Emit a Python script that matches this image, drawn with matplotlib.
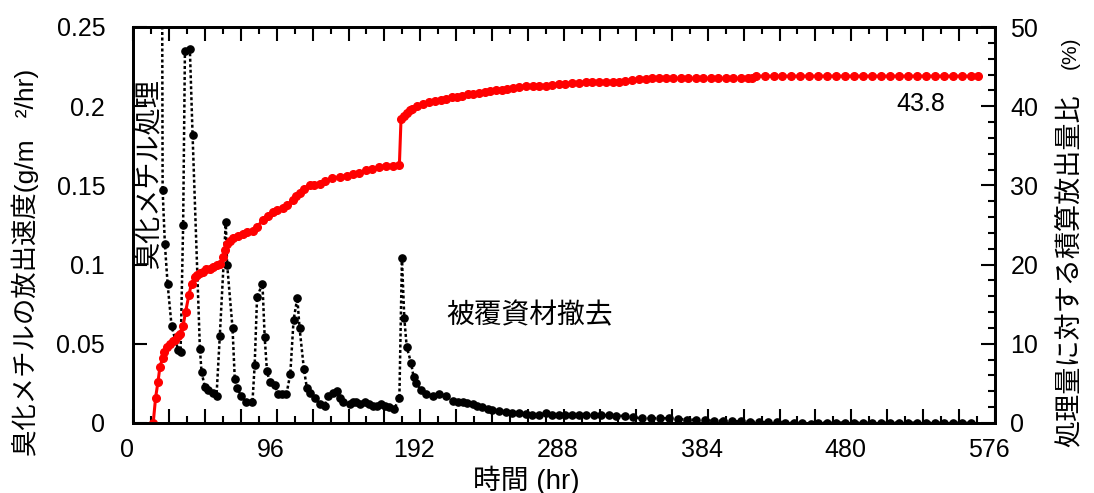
import numpy as np
import matplotlib
matplotlib.use("Agg")
import matplotlib.pyplot as plt
from matplotlib.transforms import ScaledTranslation

# 放出速度 (g/m2/hr) - 黒点線
t_rate = [19.0, 19.8, 21.3, 23.1, 25.8, 30.2, 31.8, 33.5, 34.7, 38.0,
          39.8, 44.7, 45.8, 48.0, 50.2, 53.5, 55.8, 58.0, 62.0, 62.9,
          66.5, 68.0, 69.5, 72.5, 75.8, 79.8, 81.3, 82.9, 86.5, 88.0,
          89.5, 91.3, 94.7, 96.9, 99.3, 102.5, 105.1, 107.3, 109.8, 111.3,
          114.2, 116.2, 118.5, 121.3, 124.7, 128.0, 130.2, 133.5, 136.2, 138.0,
          140.2, 144.7, 147.0, 149.1, 152.0, 154.7, 157.5, 160.2, 163.0, 165.8,
          168.5, 171.3, 174.7, 178.0, 179.7, 181.3, 182.9, 185.8, 187.5, 189.1,
          192.5, 195.8, 200.2, 204.7, 209.1, 213.5, 217.0, 220.2, 223.5, 226.9,
          230.0, 233.5, 237.0, 240.2, 244.5, 249.1, 253.5, 258.0, 262.5, 266.9,
          271.0, 275.8, 280.0, 284.5, 289.0, 293.5, 298.0, 303.0, 308.0, 313.0,
          318.0, 323.0, 329.0, 334.0, 340.0, 346.0, 352.0, 358.0, 364.0, 370.0,
          376.0, 382.0, 388.0, 394.0, 400.0, 406.0, 412.0, 418.0, 424.0, 430.0,
          436.0, 442.0, 447.0, 453.0, 458.0, 464.0, 470.0, 476.0, 482.0, 488.0,
          494.0, 500.0, 506.0, 512.0, 518.0, 524.0, 530.0, 536.0, 542.0, 548.0,
          554.0, 560.0]
rate = [0.45, 0.147, 0.113, 0.088, 0.061, 0.046, 0.045, 0.125, 0.235, 0.236,
        0.182, 0.047, 0.032, 0.023, 0.021, 0.019, 0.017, 0.055, 0.127, 0.100,
        0.060, 0.028, 0.022, 0.017, 0.013, 0.013, 0.0365, 0.0795, 0.088, 0.054,
        0.033, 0.026, 0.024, 0.018, 0.018, 0.018, 0.031, 0.065, 0.079, 0.060,
        0.034, 0.022, 0.019, 0.016, 0.012, 0.011, 0.017, 0.019, 0.020, 0.016,
        0.013, 0.012, 0.013, 0.013, 0.012, 0.013, 0.012, 0.011, 0.011, 0.012,
        0.011, 0.010, 0.009, 0.016, 0.104, 0.066, 0.048, 0.038, 0.029, 0.025,
        0.021, 0.018, 0.017, 0.018, 0.017, 0.014, 0.0135, 0.013, 0.0125, 0.012,
        0.011, 0.010, 0.009, 0.008, 0.0075, 0.007, 0.0065, 0.006, 0.0055, 0.005,
        0.005, 0.0062, 0.0052, 0.005, 0.005, 0.0048, 0.005, 0.005, 0.0048, 0.005,
        0.0048, 0.0047, 0.0044, 0.0035, 0.003, 0.003, 0.003, 0.003, 0.0025, 0.0022,
        0.002, 0.0016, 0.0015, 0.0014, 0.0012, 0.001, 0.0008, 0.0006, 0.0005, 0.0004,
        0.0003, 0.0002, -0.0003, -0.0005, 0.0002, 0.0003, 0.0002, 0.0003, 0.0002, 0.0002,
        0.0003, 0.0002, 0.0002, 0.0003, 0.0002, 0.0002, 0.0003, 0.0002, 0.0002, 0.0002,
        0.0001, 0.0001]

# 積算放出量比 (%) - 赤
t_cum = [13.5, 15.1, 16.7, 18.0, 19.8, 20.9, 22.5, 24.7, 26.5, 28.0,
         30.0, 31.3, 33.5, 35.1, 37.3, 39.1, 41.3, 43.0, 44.7, 47.0,
         49.1, 51.5, 53.5, 56.0, 58.0, 60.2, 61.3, 62.5, 64.5, 66.9,
         70.0, 73.3, 76.5, 80.0, 83.0, 86.7, 90.0, 93.3, 96.5, 100.0,
         103.0, 106.7, 109.0, 111.3, 114.5, 118.0, 121.0, 124.7, 128.5, 133.3,
         138.0, 142.7, 147.0, 151.3, 155.5, 160.0, 164.5, 169.3, 174.0, 178.0,
         179.1, 181.0, 183.0, 184.8, 186.7, 190.0, 194.0, 198.0, 202.0, 205.5,
         209.0, 213.0, 216.5, 220.0, 224.0, 227.5, 231.3, 235.0, 238.5, 242.5,
         246.5, 250.0, 254.0, 258.0, 262.5, 267.0, 271.0, 275.8, 280.0, 284.5,
         289.0, 293.5, 298.0, 302.5, 307.0, 311.5, 316.0, 320.5, 324.7, 329.0,
         333.5, 338.0, 342.5, 347.0, 351.5, 356.0, 361.0, 366.0, 371.0, 376.0,
         381.0, 386.0, 391.0, 396.0, 401.0, 406.0, 411.0, 413.5, 416.0, 422.0,
         428.0, 434.0, 440.0, 446.0, 452.0, 458.0, 464.0, 470.0, 476.0, 482.0,
         488.0, 494.0, 500.0, 506.0, 512.0, 518.0, 524.0, 530.0, 536.0, 542.0,
         548.0, 554.0, 560.0, 564.7]
cum = [0.0, 3.2, 5.2, 7.1, 8.2, 9.0, 9.6, 10.0, 10.3, 10.5,
       11.0, 11.3, 12.3, 14.0, 16.1, 17.6, 18.4, 18.7, 18.9, 19.1,
       19.4, 19.5, 19.7, 19.9, 20.1, 21.0, 21.8, 22.6, 23.0, 23.3,
       23.6, 23.9, 24.1, 24.3, 24.8, 25.6, 26.1, 26.6, 26.9, 27.1,
       27.5, 28.1, 28.6, 29.1, 29.6, 30.0, 30.1, 30.2, 30.6, 30.9,
       31.1, 31.2, 31.4, 31.6, 31.9, 32.1, 32.3, 32.4, 32.5, 32.6,
       38.4, 38.8, 39.2, 39.5, 39.7, 40.0, 40.3, 40.5, 40.7, 40.8,
       40.9, 41.1, 41.2, 41.3, 41.5, 41.6, 41.7, 41.8, 41.9, 42.0,
       42.1, 42.2, 42.3, 42.4, 42.5, 42.5, 42.6, 42.6, 42.7, 42.8,
       42.8, 42.9, 42.9, 43.0, 43.0, 43.0, 43.1, 43.1, 43.1, 43.2,
       43.3, 43.4, 43.4, 43.5, 43.5, 43.5, 43.5, 43.5, 43.5, 43.5,
       43.5, 43.5, 43.5, 43.5, 43.5, 43.5, 43.5, 43.5, 43.8, 43.8,
       43.8, 43.8, 43.8, 43.8, 43.8, 43.8, 43.8, 43.8, 43.8, 43.8,
       43.8, 43.8, 43.8, 43.8, 43.8, 43.8, 43.8, 43.8, 43.8, 43.8,
       43.8, 43.8, 43.8, 43.8]

x_ticks = [0, 24, 48, 72, 96, 120, 144, 168, 192, 216, 240, 264, 288,
           312, 336, 360, 384, 408, 432, 456, 480, 504, 528, 552, 576]
x_labels = ['0', '', '', '', '96', '', '', '', '192', '', '', '', '288',
            '', '', '', '384', '', '', '', '480', '', '', '', '576']
y_left_ticks = [0, 0.05, 0.1, 0.15, 0.2, 0.25]
y_left_labels = ['0', '0.05', '0.1', '0.15', '0.2', '0.25']
y_right_ticks = [0, 10, 20, 30, 40, 50]

plt.rcParams['font.family'] = ['Liberation Sans', 'Noto Sans CJK JP', 'DejaVu Sans']

W, H = 1094, 493
fig = plt.figure(figsize=(W / 100, H / 100), dpi=100)
ax = fig.add_axes([133 / W, 70 / H, (995 - 133) / W, (423 - 27) / H])
ax2 = ax.twinx()

ax.plot(t_rate, rate, color='black', ls=(0, (1.2, 1.0)), lw=1.8,
        marker='o', ms=5.2)
ax2.plot(t_cum, cum, color='red', lw=2.2, marker='o', ms=5.5)

ax.set_xlim(0, 576)
ax.set_ylim(0, 0.25)
ax2.set_ylim(0, 50)

ax.set_xticks(x_ticks, x_labels)
ax.set_xticks(np.arange(0, 577, 12), minor=True)
ax.set_yticks(y_left_ticks, y_left_labels)
ax2.set_yticks(y_right_ticks)
ax2.set_yticks(np.arange(0, 51, 2), minor=True)

ax.tick_params(axis='x', which='both', direction='in', top=True, bottom=True,
               width=1.5, labelsize=18, pad=11)
ax.tick_params(axis='x', which='major', length=10)
ax.tick_params(axis='x', which='minor', length=5)
ax.tick_params(axis='y', which='major', direction='in', length=10, width=1.5,
               labelsize=18, pad=20, right=False)
ax2.tick_params(axis='y', which='major', direction='in', length=10, width=1.5,
                labelsize=18, pad=11)
ax2.tick_params(axis='y', which='minor', direction='in', length=5, width=1.5)

shift = ScaledTranslation(-6 / 100, 0, fig.dpi_scale_trans)
for lab in ax.get_xticklabels():
    lab.set_transform(lab.get_transform() + shift)

for a in (ax, ax2):
    for s in a.spines.values():
        s.set_linewidth(2)

ax.text(11.3, 0.158, "臭化メチル処理", rotation=90, fontsize=19.5,
        ha='center', va='center')
ax.text(264.7, 0.0677, "被覆資材撤去", fontsize=20, ha='center', va='center')
ax2.text(526.7, 40.3, "43.8", fontsize=18, ha='center', va='center')

fig.text(25 / W, 1 - 262 / H, "臭化メチルの放出速度(g/m   ²/hr)", rotation=90,
         fontsize=19, ha='center', va='center')
fig.text(1070 / W, 1 - 271 / H, "処理量に対する積算放出量比", rotation=90,
         fontsize=19.5, ha='center', va='center')
fig.text(1070 / W, 1 - 53 / H, "(%)", rotation=90, fontsize=15,
         ha='center', va='center')
fig.text(526 / W, 1 - 480 / H, "時間 (hr)", fontsize=20, ha='center', va='center')

fig.savefig('out.png', dpi=100)
